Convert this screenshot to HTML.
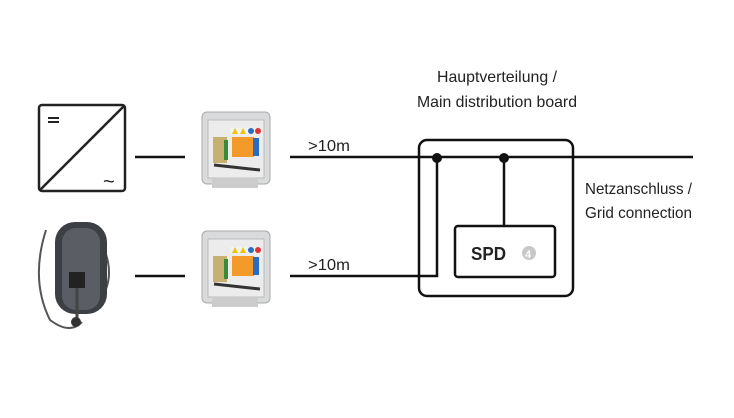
<!DOCTYPE html>
<html><head><style>
body{margin:0;background:#fff;}
svg text{font-family:"Liberation Sans",sans-serif;fill:#222;}
</style></head><body>
<svg width="734" height="413" viewBox="0 0 734 413" xmlns="http://www.w3.org/2000/svg">
<rect width="734" height="413" fill="#fff"/>
<!-- inverter -->
<rect x="39" y="105" width="86" height="86" rx="3" fill="none" stroke="#222" stroke-width="2.5"/>
<line x1="40" y1="190" x2="124" y2="106" stroke="#222" stroke-width="2.5"/>
<rect x="48" y="117" width="11" height="2" fill="#222"/><rect x="48" y="121" width="11" height="2" fill="#222"/>
<text x="103" y="188" font-size="20">~</text>
<!-- charger -->
<path d="M46 230 Q30 280 50 320 Q70 335 82 322" fill="none" stroke="#555" stroke-width="2"/>
<path d="M100 240 Q118 275 100 300 Q85 310 80 305" fill="none" stroke="#555" stroke-width="2"/>
<rect x="55" y="222" width="52" height="92" rx="20" fill="#3c3f44"/>
<rect x="62" y="228" width="38" height="82" rx="14" fill="#5a5e64"/>
<rect x="69" y="272" width="16" height="16" fill="#222"/>
<line x1="77" y1="288" x2="77" y2="318" stroke="#444" stroke-width="3"/>
<circle cx="76" cy="322" r="5" fill="#333"/>
<!-- junction boxes -->
<g id="jb">
<rect x="202" y="112" width="68" height="72" rx="5" fill="#d9dadb" stroke="#aaa"/>
<rect x="208" y="120" width="56" height="58" fill="#ececec" stroke="#bbb"/>
<rect x="230" y="128" width="30" height="6" fill="#f2f2f2"/>
<polygon points="232,134 235,128 238,134" fill="#f0c400"/><polygon points="240,134 243,128 246,134" fill="#f0c400"/>
<circle cx="251" cy="131" r="3" fill="#2a6cc4"/><circle cx="258" cy="131" r="3" fill="#d33"/>
<rect x="232" y="137" width="22" height="20" fill="#f39a2b"/>
<rect x="253" y="138" width="6" height="18" fill="#2a6cc4"/>
<rect x="213" y="137" width="14" height="26" fill="#c8b070"/>
<rect x="224" y="140" width="4" height="20" fill="#3a8a3a"/>
<path d="M214 165 L260 170" stroke="#333" stroke-width="3"/>
<rect x="212" y="178" width="46" height="10" fill="#ccc"/>
</g>
<use href="#jb" transform="translate(0,119)"/>
<!-- lines -->
<g stroke="#111" stroke-width="2.5" fill="none">
<line x1="135" y1="157" x2="185" y2="157"/>
<line x1="135" y1="276" x2="185" y2="276"/>
<line x1="290" y1="157" x2="693" y2="157"/>
<polyline points="290,276 437,276 437,157"/>
<line x1="504" y1="157" x2="504" y2="226"/>
<rect x="419" y="140" width="154" height="156" rx="8"/>
<rect x="455" y="226" width="100" height="51" rx="3"/>
</g>
<circle cx="437" cy="158" r="5" fill="#111"/>
<circle cx="504" cy="158" r="5" fill="#111"/>
<text x="471" y="260" font-size="18" font-weight="bold" textLength="35" lengthAdjust="spacingAndGlyphs">SPD</text>
<circle cx="529" cy="253" r="7" fill="#c8c8c8"/>
<text x="525" y="258" font-size="11" font-weight="bold" style="fill:#fff">4</text>
<text x="437" y="82" font-size="16" textLength="120" lengthAdjust="spacingAndGlyphs">Hauptverteilung /</text>
<text x="417" y="107" font-size="16" textLength="160" lengthAdjust="spacingAndGlyphs">Main distribution board</text>
<text x="308" y="151" font-size="16" textLength="42" lengthAdjust="spacingAndGlyphs">&gt;10m</text>
<text x="308" y="270" font-size="16" textLength="42" lengthAdjust="spacingAndGlyphs">&gt;10m</text>
<text x="585" y="194" font-size="16" textLength="107" lengthAdjust="spacingAndGlyphs">Netzanschluss /</text>
<text x="585" y="218" font-size="16" textLength="107" lengthAdjust="spacingAndGlyphs">Grid connection</text>
</svg>
</body></html>
